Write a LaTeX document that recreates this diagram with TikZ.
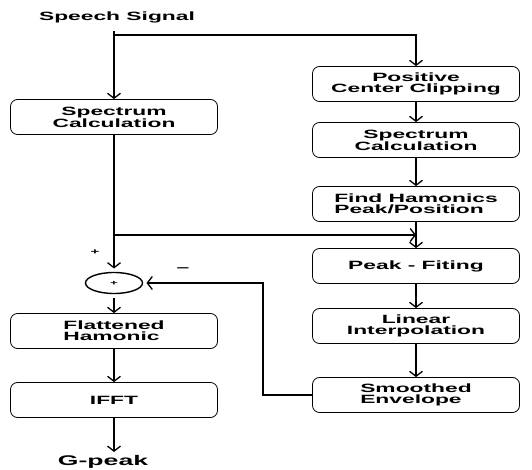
\documentclass[tikz,border=0pt]{standalone}
\usepackage{fontspec}
\setmainfont{Liberation Sans}[FakeStretch=1.9]
\usetikzlibrary{arrows.meta,positioning,shapes.geometric}

\begin{document}
\begin{tikzpicture}[
  x=1pt, y=-1pt,
  box/.style={draw, rounded corners=7pt, minimum width=207pt, minimum height=35pt,
              font=\fontsize{12}{11}\selectfont\bfseries, align=center,
              inner sep=0pt, line width=0.8pt},
  arrow/.style={-{Straight Barb[length=5pt,width=13pt]}, line width=1.3pt},
  lbl/.style={font=\fontsize{12}{11}\selectfont\bfseries},
]
\useasboundingbox (0,0) rectangle (532,470);

% Left column: direct spectrum
\node[lbl] (sig) at (117,17) {Speech Signal};
\node[box] (lspec) at (114,117) {Spectrum\\Calculation};
\node[draw, ellipse, line width=1.4pt, minimum width=57pt, minimum height=21pt,
      inner sep=0pt, outer sep=4pt, font=\scriptsize\bfseries] (sum) at (114,283) {+};
\node[box, align=left] (flat) at (114,331) {Flattened\\Hamonic};
\node[box] (ifft) at (114,400) {IFFT};
\node[lbl, font=\fontsize{14}{14}\selectfont\bfseries] (gpeak) at (103,462) {G-peak};

% Right column: envelope
\node[box] (pos) at (416,84) {Positive\\Center Clipping};
\node[box] (rspec) at (416,140) {Spectrum\\Calculation};
\node[box, align=left] (find) at (416,204) {Find Hamonics\\Peak/Position};
\node[box] (fit) at (416,266) {Peak - Fiting};
\node[box] (lin) at (416,326) {Linear\\Interpolation};
\node[box, align=left] (smooth) at (416,395) {Smoothed\\Envelope};

% Signs at the summing point
\node[font=\footnotesize\bfseries] (plus) at (95,252) {+};
\node[lbl] (minus) at (183,270) {--};

\coordinate (split) at (114,35);
\coordinate (join) at (416,235);
\coordinate (fb) at (263,395);

\draw[arrow, shorten <=5pt] (lspec.north |- sig.south) -- (lspec);
\draw[arrow] (split) -| (pos);
\draw[arrow] (pos) -- (rspec);
\draw[arrow] (rspec) -- (find);
\draw[arrow] (find) -- (fit);
\draw[arrow] (fit) -- (lin);
\draw[arrow] (lin) -- (smooth);
\draw[arrow] (lspec) -- (sum);
\draw[arrow] (lspec.south |- join) -- (join);
\draw[arrow] (sum) -- (flat);
\draw[arrow] (flat) -- (ifft);
\draw[arrow] (ifft) -- (ifft.south |- gpeak.north);
\draw[arrow] (smooth) -- (fb) |- (sum);
\end{tikzpicture}
\end{document}
